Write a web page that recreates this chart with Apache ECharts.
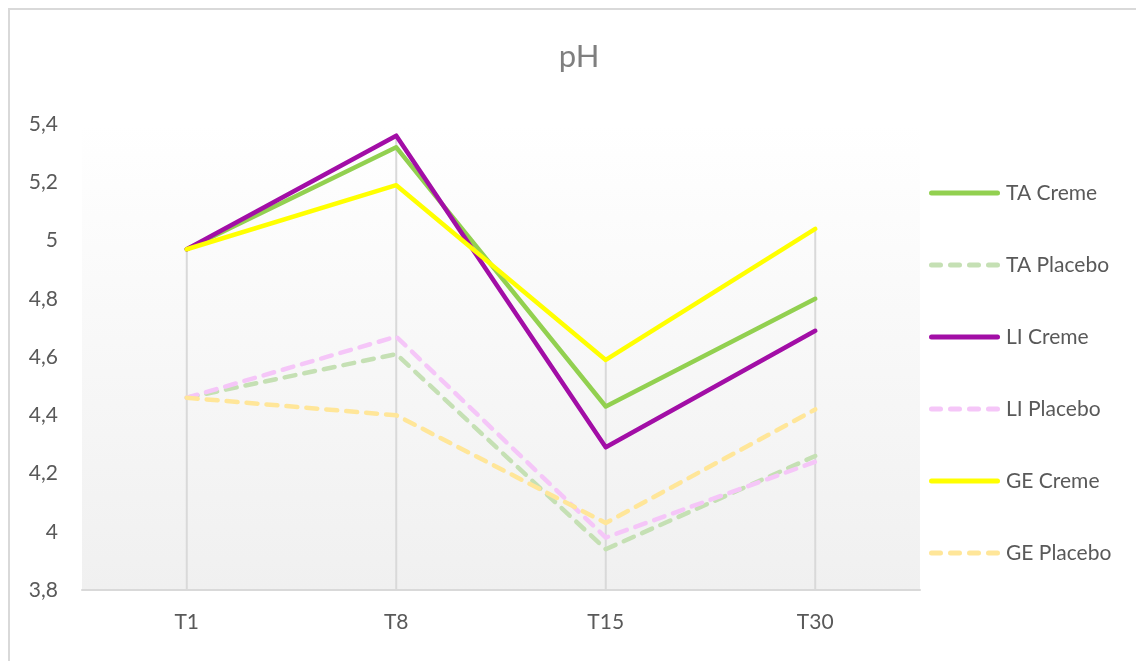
<!DOCTYPE html>
<html>
<head>
<meta charset="utf-8">
<script src="https://cdn.jsdelivr.net/npm/echarts@6/dist/echarts.min.js"></script>
<style>html,body{margin:0;padding:0;background:#fff}#c{width:1136px;height:661px}</style>
</head>
<body>
<div id="c"></div>
<script>
var categories = ['T1', 'T8', 'T15', 'T30'];
var seriesNames = ['TA Creme', 'TA Placebo', 'LI Creme', 'LI Placebo', 'GE Creme', 'GE Placebo'];
var taCreme   = [4.97, 5.32, 4.43, 4.80];
var taPlacebo = [4.46, 4.61, 3.94, 4.26];
var liCreme   = [4.97, 5.36, 4.29, 4.69];
var liPlacebo = [4.46, 4.67, 3.98, 4.24];
var geCreme   = [4.97, 5.19, 4.59, 5.04];
var gePlacebo = [4.46, 4.40, 4.03, 4.42];
var yTicks = [3.8, 4.0, 4.2, 4.4, 4.6, 4.8, 5.0, 5.2, 5.4];

var colors = ['#92d050', '#c5e0b4', '#a20ea6', '#f5c6f8', '#ffff00', '#ffe699'];
var allData = [taCreme, taPlacebo, liCreme, liPlacebo, geCreme, gePlacebo];
var dropData = categories.map(function (c, i) {
  return Math.max.apply(null, allData.map(function (s) { return s[i]; }));
});

var font = 'Lato, "Liberation Sans", sans-serif';
var solidIcon = 'path://M2.5,0h66a2.5,2.5 0 0 1 0,5h-66a2.5,2.5 0 0 1 0,-5z';
var dashIcon = 'path://M2.5,0h9a2.5,2.5 0 0 1 0,5h-9a2.5,2.5 0 0 1 0,-5z' +
  'M21.5,0h9a2.5,2.5 0 0 1 0,5h-9a2.5,2.5 0 0 1 0,-5z' +
  'M40.5,0h9a2.5,2.5 0 0 1 0,5h-9a2.5,2.5 0 0 1 0,-5z' +
  'M59.5,0h9a2.5,2.5 0 0 1 0,5h-9a2.5,2.5 0 0 1 0,-5z';

var chart = echarts.init(document.getElementById('c'), null, {renderer: 'canvas'});

var series = [{
  name: 'drop',
  type: 'bar',
  data: dropData,
  barWidth: 2,
  silent: true,
  itemStyle: {color: '#d9d9d9'},
  z: 1
}];
seriesNames.forEach(function (n, i) {
  var dashed = n.indexOf('Placebo') >= 0;
  series.push({
    name: n,
    type: 'line',
    data: allData[i],
    symbol: 'none',
    showSymbol: false,
    z: dashed ? 2 : 3,
    lineStyle: {
      color: colors[i],
      width: 4.5,
      type: dashed ? [11, 9] : 'solid',
      cap: 'round',
      join: 'round'
    },
    itemStyle: {color: colors[i]}
  });
});

chart.setOption({
  animation: false,
  backgroundColor: '#ffffff',
  title: {
    text: 'pH',
    left: 574,
    textAlign: 'center',
    top: 36,
    textStyle: {fontFamily: font, fontSize: 31, fontWeight: 'normal', color: '#7f7f7f'}
  },
  graphic: [{
    type: 'rect',
    shape: {x: 9, y: 9, width: 1200, height: 700},
    style: {fill: null, stroke: '#d9d9d9', lineWidth: 2},
    silent: true,
    z: -10
  }],
  legend: {
    orient: 'vertical',
    left: 924,
    top: 176,
    itemWidth: 71,
    itemHeight: 5,
    itemGap: 48,
    data: seriesNames.map(function (n) {
      return {name: n, icon: n.indexOf('Placebo') >= 0 ? dashIcon : solidIcon};
    }),
    itemStyle: {borderWidth: 0},
    lineStyle: {width: 0, opacity: 0},
    textStyle: {fontFamily: font, fontSize: 21, color: '#595959', lineHeight: 24, padding: [0, 0, 0, 1]}
  },
  grid: {
    left: 82,
    right: 216,
    top: 124,
    bottom: 71,
    show: true,
    borderWidth: 0,
    backgroundColor: new echarts.graphic.LinearGradient(0, 0, 0, 1, [
      {offset: 0, color: '#ffffff'},
      {offset: 1, color: '#f0f0f0'}
    ])
  },
  xAxis: {
    type: 'category',
    data: categories,
    boundaryGap: true,
    axisLine: {lineStyle: {color: '#d9d9d9', width: 2}},
    axisTick: {show: false},
    axisLabel: {fontFamily: font, fontSize: 21, color: '#595959', margin: 22},
    splitLine: {show: false}
  },
  yAxis: {
    type: 'value',
    min: 3.8,
    max: 5.4,
    interval: 0.2,
    axisLine: {show: false},
    axisTick: {show: false},
    splitLine: {show: false},
    axisLabel: {
      fontFamily: font, fontSize: 21, color: '#595959', margin: 24,
      formatter: function (v) {
        var r = Math.round(v * 10) / 10;
        return String(r).replace('.', ',');
      }
    }
  },
  series: series
});
</script>
</body>
</html>
